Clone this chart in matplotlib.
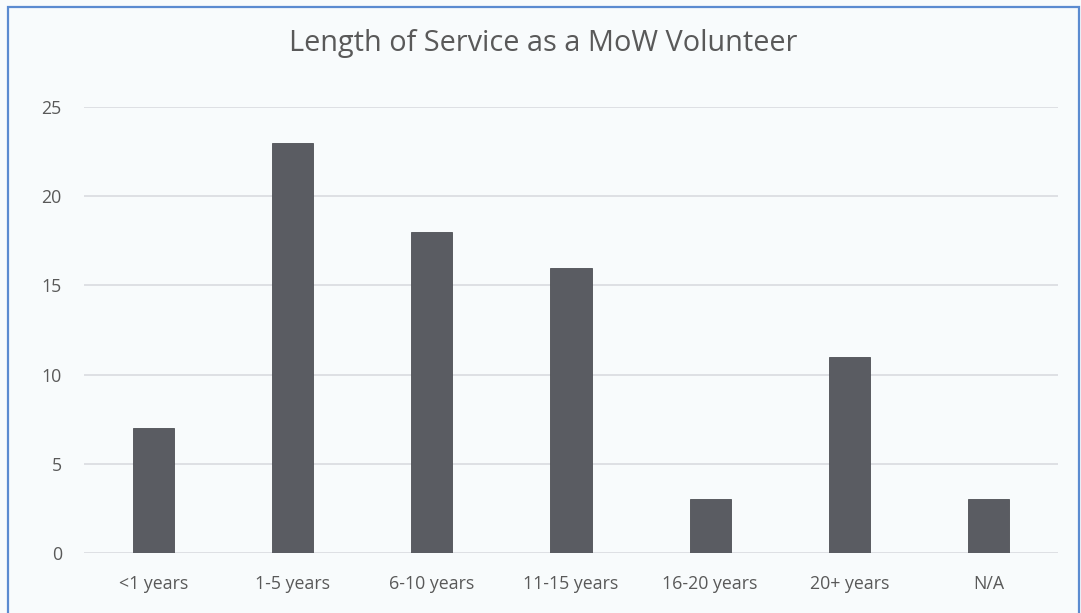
import matplotlib
matplotlib.use("Agg")
import matplotlib.pyplot as plt
from matplotlib.patches import Rectangle

categories = ["<1 years", "1-5 years", "6-10 years", "11-15 years", "16-20 years", "20+ years", "N/A"]
counts = [7, 23, 18, 16, 3, 11, 3]
yticks = [0, 5, 10, 15, 20, 25]

plt.rcParams['font.family'] = ['Open Sans', 'DejaVu Sans']

W, H = 1081, 613
fig = plt.figure(figsize=(W / 100, H / 100), dpi=100)
fig.patch.set_facecolor("#f8fbfc")

# outer frame (bottom edge falls outside the canvas)
frame = Rectangle((8 / W, -0.05), (1079 - 8) / W, 1.05 - 7 / H,
                  transform=fig.transFigure, fill=False,
                  edgecolor="#5b8bd0", linewidth=1.6)
fig.add_artist(frame)

ax = fig.add_axes([84 / W, 1 - 553 / H, (1058 - 84) / W, (553 - 107) / H])
ax.set_facecolor("#f8fbfc")

x = range(len(categories))
ax.bar(x, counts, width=0.295, color="#5a5c62", edgecolor="#4e5055", linewidth=0.6, zorder=3)

ax.set_xlim(-0.5, len(categories) - 0.5)
ax.set_ylim(0, 25)
ax.set_yticks(yticks)
ax.set_xticks(list(x))
ax.set_xticklabels(categories)

for y in yticks:
    ax.axhline(y, color="#dcdee2", linewidth=1.3, zorder=1)

for s in ax.spines.values():
    s.set_visible(False)
ax.tick_params(axis="both", length=0, labelsize=12.8, colors="#595959")
ax.tick_params(axis="x", pad=16)
ax.tick_params(axis="y", pad=16)

fig.text(543 / W, 1 - 43 / H, "Length of Service as a MoW Volunteer",
         ha="center", va="center", fontsize=20.8, color="#595959")

fig.savefig("out.png", dpi=100, facecolor=fig.get_facecolor())
